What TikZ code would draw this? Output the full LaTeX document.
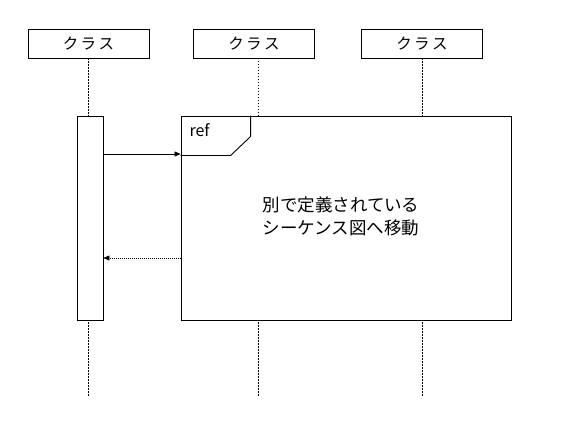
\documentclass[tikz,border=0pt]{standalone}
\usepackage{fontspec}
\setmainfont{Noto Sans CJK JP}
\usetikzlibrary{arrows.meta}
\begin{document}
\begin{tikzpicture}[x=1pt,y=-1pt,
  cls/.style={draw,line width=0.9pt,minimum width=121pt,minimum height=29pt,inner sep=0pt,font=\fontsize{15.5}{17}\selectfont},
  life/.style={line width=0.9pt,dash pattern=on 1.5pt off 1.5pt},
  box/.style={draw,line width=0.9pt},
  msg/.style={line width=0.6pt,-{Triangle[length=6pt,width=5pt]}},
  ret/.style={line width=0.6pt,dash pattern=on 1pt off 1pt,-{Triangle[length=6pt,width=5pt]}}]
\useasboundingbox (0,0) rectangle (568,433);
\node[cls] (c1) at (88.5,43.5) {ク\kern2.5ptラ\kern2.5ptス};
\node[cls] (c2) at (254,43.5) {ク\kern2.5ptラ\kern2.5ptス};
\node[cls] (c3) at (422,43.5) {ク\kern2.5ptラ\kern2.5ptス};
\coordinate (e1) at (88.5,397);
\coordinate (e2) at (258,397);
\coordinate (e3) at (422,397);
\draw[life] (c1.south) -- (e1);
\draw[life] (258,58) -- (e2);
\draw[life] (c3.south) -- (e3);
\node[box,fill=white,minimum width=26pt,minimum height=204pt,inner sep=0pt] (act) at (90,218) {};
\node[box,fill=white,minimum width=330pt,minimum height=204pt,inner sep=0pt] (ref) at (346,218) {};
\draw[line width=0.9pt] (ref.north west) ++(70,0) -- ++(0,21) -- ++(-20,19) -- ++(-50,0);
\node[font=\fontsize{16}{17}\selectfont,anchor=west] (reft) at (186,130) {ref};
\node[font=\fontsize{17.5}{23}\selectfont,align=center] (txt) at (341,216) {別で定義されている\\シーケンス図へ移動};
\coordinate (a1) at (act.east |- 0,154);
\coordinate (b1) at (ref.west |- 0,154);
\draw[msg] (a1) -- (b1);
\coordinate (a2) at (act.east |- 0,258);
\coordinate (b2) at (ref.west |- 0,258);
\draw[ret] (b2) -- (a2);
\end{tikzpicture}
\end{document}
